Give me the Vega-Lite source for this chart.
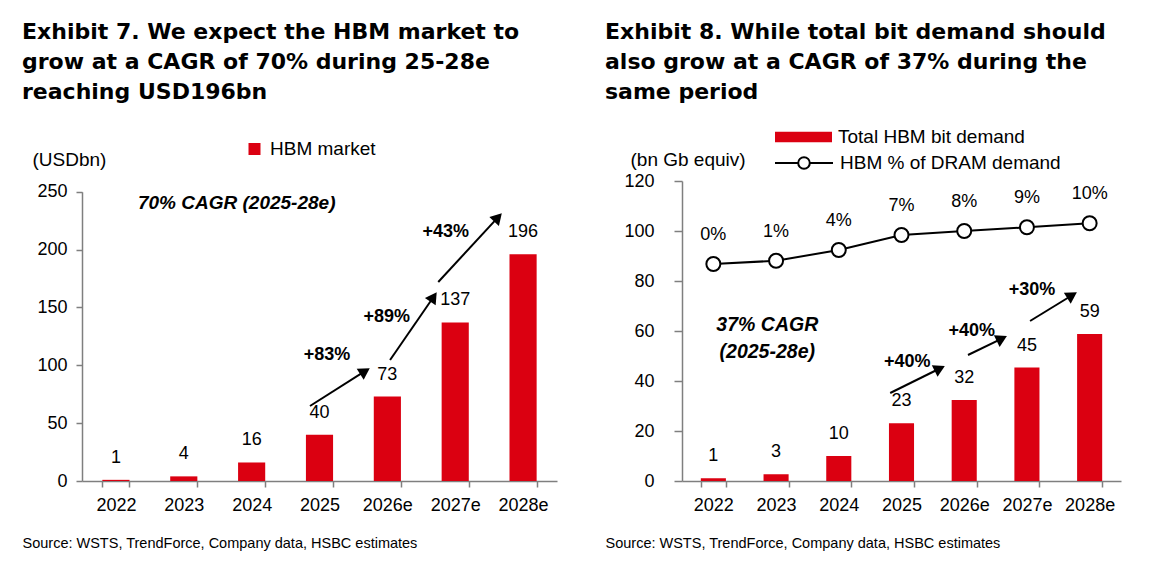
{
  "$schema": "https://vega.github.io/schema/vega-lite/v6.json",
  "background": "white",
  "padding": {"left": 22, "top": 20, "right": 5, "bottom": 5},
  "spacing": 48,
  "resolve": {
    "scale": {"color": "independent", "stroke": "independent"},
    "legend": {"color": "independent", "stroke": "independent"}
  },
  "config": {
    "font": "Liberation Sans",
    "view": {"stroke": null},
    "axis": {
      "grid": false,
      "domainColor": "#7f7f7f",
      "domainWidth": 1.5,
      "tickColor": "#7f7f7f",
      "tickWidth": 1.5,
      "tickSize": 6,
      "labelFont": "Liberation Sans",
      "labelFontSize": 18,
      "labelColor": "black",
      "titleFont": "Liberation Sans",
      "titleFontWeight": "normal",
      "titleColor": "black"
    },
    "legend": {"padding": 0, "labelFont": "Liberation Sans", "labelFontSize": 19, "labelColor": "black", "labelLimit": 400},
    "title": {"font": "DejaVu Sans", "fontSize": 22, "fontWeight": "bold", "color": "black", "lineHeight": 30, "anchor": "start", "frame": "group"}
  },
  "hconcat": [
    {
      "width": 475,
      "height": 300,
      "title": {"text": ["Exhibit 7. We expect the HBM market to", "grow at a CAGR of 70% during 25-28e", "reaching USD196bn"], "dx": -60, "offset": 36},
      "layer": [
        {
          "data": {"values": [
            {"year": "2022", "value": 1, "series": "HBM market"},
            {"year": "2023", "value": 4, "series": "HBM market"},
            {"year": "2024", "value": 16, "series": "HBM market"},
            {"year": "2025", "value": 40, "series": "HBM market"},
            {"year": "2026e", "value": 73, "series": "HBM market"},
            {"year": "2027e", "value": 137, "series": "HBM market"},
            {"year": "2028e", "value": 196, "series": "HBM market"}
          ]},
          "encoding": {
            "x": {
              "field": "year", "type": "nominal", "sort": null,
              "scale": {"type": "band", "paddingInner": 0.6, "paddingOuter": 0.3},
              "axis": {
                "labelAngle": 0, "tickBand": "extent", "labelPadding": 9,
                "title": "Source: WSTS, TrendForce, Company data, HSBC estimates",
                "titleFontSize": 14.5, "titleX": -60, "titleY": 62,
                "titleAnchor": "start", "titleAlign": "left", "titleBaseline": "middle"
              }
            },
            "y": {
              "field": "value", "type": "quantitative",
              "scale": {"domain": [0, 250], "range": [300, 10.7], "nice": false},
              "axis": {
                "values": [0, 50, 100, 150, 200, 250], "labelPadding": 9,
                "title": "(USDbn)", "titleFontSize": 19, "titleAngle": 0,
                "titleX": -50, "titleY": -22, "titleAlign": "left", "titleBaseline": "middle"
              }
            }
          },
          "layer": [
            {
              "mark": {"type": "bar"},
              "encoding": {
                "color": {
                  "field": "series", "type": "nominal",
                  "scale": {"range": ["#DB0011"]},
                  "legend": {"orient": "none", "legendX": 163, "legendY": -41.5, "title": null, "symbolType": "square", "symbolSize": 144, "symbolStrokeWidth": 0, "labelOffset": 6}
                }
              }
            },
            {
              "mark": {"type": "text", "fontSize": 18, "dy": -22, "baseline": "middle", "color": "black"},
              "encoding": {"x": {"field": "year", "type": "nominal", "sort": null, "bandPosition": 0.5}, "text": {"field": "value", "type": "quantitative", "format": ".0f"}}
            }
          ]
        },
        {
          "data": {"values": [
            {"x": 3.36, "y": 64.8, "x2": 4.17, "y2": 94.9, "angle": 57.7},
            {"x": 4.54, "y": 104.6, "x2": 5.18, "y2": 159.0, "angle": 34.6},
            {"x": 5.25, "y": 172, "x2": 6.13, "y2": 227.8, "angle": 42.8}
          ]},
          "layer": [
            {
              "mark": {"type": "rule", "color": "black", "strokeWidth": 2},
              "encoding": {
                "x": {"field": "x", "type": "quantitative", "scale": {"domain": [0, 7], "nice": false, "zero": false}, "axis": null},
                "x2": {"field": "x2"},
                "y": {"field": "y", "type": "quantitative"},
                "y2": {"field": "y2"}
              }
            },
            {
              "mark": {"type": "point", "shape": "triangle-up", "filled": true, "color": "black", "size": 170, "opacity": 1},
              "encoding": {
                "x": {"field": "x2", "type": "quantitative", "scale": {"domain": [0, 7], "nice": false, "zero": false}, "axis": null},
                "y": {"field": "y2", "type": "quantitative"},
                "angle": {"field": "angle", "type": "quantitative", "scale": null}
              }
            }
          ]
        },
        {
          "data": {"values": [
            {"x": 3.61, "y": 108.9, "label": "+83%"},
            {"x": 4.49, "y": 142, "label": "+89%"},
            {"x": 5.36, "y": 215.5, "label": "+43%"}
          ]},
          "mark": {"type": "text", "fontSize": 18, "fontWeight": "bold", "baseline": "middle", "color": "black"},
          "encoding": {
            "x": {"field": "x", "type": "quantitative", "scale": {"domain": [0, 7], "nice": false, "zero": false}, "axis": null},
            "y": {"field": "y", "type": "quantitative"},
            "text": {"field": "label"}
          }
        },
        {
          "data": {"values": [{"x": 2.28, "y": 240.3, "label": "70% CAGR (2025-28e)"}]},
          "mark": {"type": "text", "fontSize": 19, "fontWeight": "bold", "fontStyle": "italic", "baseline": "middle", "color": "black"},
          "encoding": {
            "x": {"field": "x", "type": "quantitative", "scale": {"domain": [0, 7], "nice": false, "zero": false}, "axis": null},
            "y": {"field": "y", "type": "quantitative"},
            "text": {"field": "label"}
          }
        }
      ],
      "resolve": {"scale": {"x": "independent"}}
    },
    {
      "width": 439,
      "height": 300,
      "title": {"text": ["Exhibit 8. While total bit demand should", "also grow at a CAGR of 37% during the", "same period"], "dx": -77, "offset": 5},
      "layer": [
        {
          "data": {"values": [
            {"year": "2022", "bits": 1.1, "line_value": 86.8, "share": "0%", "bar_series": "Total HBM bit demand", "line_series": "HBM % of DRAM demand"},
            {"year": "2023", "bits": 2.7, "line_value": 88.1, "share": "1%", "bar_series": "Total HBM bit demand", "line_series": "HBM % of DRAM demand"},
            {"year": "2024", "bits": 10, "line_value": 92.4, "share": "4%", "bar_series": "Total HBM bit demand", "line_series": "HBM % of DRAM demand"},
            {"year": "2025", "bits": 23.1, "line_value": 98.4, "share": "7%", "bar_series": "Total HBM bit demand", "line_series": "HBM % of DRAM demand"},
            {"year": "2026e", "bits": 32.4, "line_value": 100, "share": "8%", "bar_series": "Total HBM bit demand", "line_series": "HBM % of DRAM demand"},
            {"year": "2027e", "bits": 45.4, "line_value": 101.5, "share": "9%", "bar_series": "Total HBM bit demand", "line_series": "HBM % of DRAM demand"},
            {"year": "2028e", "bits": 58.8, "line_value": 103.1, "share": "10%", "bar_series": "Total HBM bit demand", "line_series": "HBM % of DRAM demand"}
          ]},
          "encoding": {
            "x": {
              "field": "year", "type": "nominal", "sort": null,
              "scale": {"type": "band", "paddingInner": 0.6, "paddingOuter": 0.3},
              "axis": {
                "labelAngle": 0, "tickBand": "extent", "labelPadding": 9,
                "title": "Source: WSTS, TrendForce, Company data, HSBC estimates",
                "titleFontSize": 14.5, "titleX": -77, "titleY": 62,
                "titleAnchor": "start", "titleAlign": "left", "titleBaseline": "middle"
              }
            }
          },
          "layer": [
            {
              "mark": {"type": "bar"},
              "encoding": {
                "y": {
                  "field": "bits", "type": "quantitative",
                  "scale": {"domain": [0, 120], "nice": false},
                  "axis": {
                    "values": [0, 20, 40, 60, 80, 100, 120], "tickSize": 8, "labelPadding": 20,
                    "title": "(bn Gb equiv)", "titleFontSize": 19, "titleAngle": 0,
                    "titleX": -52, "titleY": -22, "titleAlign": "left", "titleBaseline": "middle"
                  }
                },
                "color": {
                  "field": "bar_series", "type": "nominal",
                  "scale": {"range": ["#DB0011"]},
                  "legend": {"orient": "none", "legendX": 93, "legendY": -72.5, "title": null, "symbolType": "M-1,-0.18 L1,-0.18 L1,0.18 L-1,0.18 Z", "symbolSize": 3249, "symbolStrokeWidth": 0, "labelOffset": 6}
                }
              }
            },
            {
              "mark": {"type": "text", "fontSize": 18, "dy": -22, "baseline": "middle", "color": "black"},
              "encoding": {
                "x": {"field": "year", "type": "nominal", "sort": null, "bandPosition": 0.5},
                "y": {"field": "bits", "type": "quantitative"},
                "text": {"field": "bits", "type": "quantitative", "format": ".0f"}
              }
            },
            {
              "mark": {"type": "line", "strokeWidth": 2},
              "encoding": {
                "x": {"field": "year", "type": "nominal", "sort": null, "bandPosition": 0.5},
                "y": {"field": "line_value", "type": "quantitative"},
                "stroke": {
                  "field": "line_series", "type": "nominal",
                  "scale": {"range": ["black"]},
                  "legend": {"orient": "none", "legendX": 92, "legendY": -48, "title": null, "symbolType": "M-1,0 L-0.2,0 M0.2,0 L1,0 M-0.2,0 A0.2,0.2 0 1 0 0.2,0 A0.2,0.2 0 1 0 -0.2,0", "symbolSize": 3364, "symbolStrokeWidth": 2, "symbolFillColor": "white", "symbolStrokeColor": "black", "labelOffset": 6}
                }
              }
            },
            {
              "mark": {"type": "point", "shape": "circle", "filled": true, "fill": "white", "stroke": "black", "strokeWidth": 2, "size": 196, "opacity": 1},
              "encoding": {
                "x": {"field": "year", "type": "nominal", "sort": null, "bandPosition": 0.5},
                "y": {"field": "line_value", "type": "quantitative"}
              }
            },
            {
              "mark": {"type": "text", "fontSize": 18, "dy": -29, "baseline": "middle", "color": "black"},
              "encoding": {
                "x": {"field": "year", "type": "nominal", "sort": null, "bandPosition": 0.5},
                "y": {"field": "line_value", "type": "quantitative"},
                "text": {"field": "share"}
              }
            }
          ]
        },
        {
          "data": {"values": [
            {"x": 3.32, "y": 35.2, "x2": 4.11, "y2": 45.0, "angle": 63.9},
            {"x": 4.56, "y": 50.4, "x2": 5.10, "y2": 56.96, "angle": 64},
            {"x": 5.55, "y": 64, "x2": 6.22, "y2": 74.3, "angle": 58.3}
          ]},
          "layer": [
            {
              "mark": {"type": "rule", "color": "black", "strokeWidth": 2},
              "encoding": {
                "x": {"field": "x", "type": "quantitative", "scale": {"domain": [0, 7], "nice": false, "zero": false}, "axis": null},
                "x2": {"field": "x2"},
                "y": {"field": "y", "type": "quantitative"},
                "y2": {"field": "y2"}
              }
            },
            {
              "mark": {"type": "point", "shape": "triangle-up", "filled": true, "color": "black", "size": 170, "opacity": 1},
              "encoding": {
                "x": {"field": "x2", "type": "quantitative", "scale": {"domain": [0, 7], "nice": false, "zero": false}, "axis": null},
                "y": {"field": "y2", "type": "quantitative"},
                "angle": {"field": "angle", "type": "quantitative", "scale": null}
              }
            }
          ]
        },
        {
          "data": {"values": [
            {"x": 3.59, "y": 47.7, "label": "+40%"},
            {"x": 4.62, "y": 60.1, "label": "+40%"},
            {"x": 5.58, "y": 76.4, "label": "+30%"}
          ]},
          "mark": {"type": "text", "fontSize": 18, "fontWeight": "bold", "baseline": "middle", "color": "black"},
          "encoding": {
            "x": {"field": "x", "type": "quantitative", "scale": {"domain": [0, 7], "nice": false, "zero": false}, "axis": null},
            "y": {"field": "y", "type": "quantitative"},
            "text": {"field": "label"}
          }
        },
        {
          "data": {"values": [
            {"x": 1.36, "y": 62.4, "label": "37% CAGR"},
            {"x": 1.36, "y": 51.6, "label": "(2025-28e)"}
          ]},
          "mark": {"type": "text", "fontSize": 19.5, "fontWeight": "bold", "fontStyle": "italic", "baseline": "middle", "color": "black"},
          "encoding": {
            "x": {"field": "x", "type": "quantitative", "scale": {"domain": [0, 7], "nice": false, "zero": false}, "axis": null},
            "y": {"field": "y", "type": "quantitative"},
            "text": {"field": "label"}
          }
        }
      ],
      "resolve": {"scale": {"x": "independent"}}
    }
  ]
}
